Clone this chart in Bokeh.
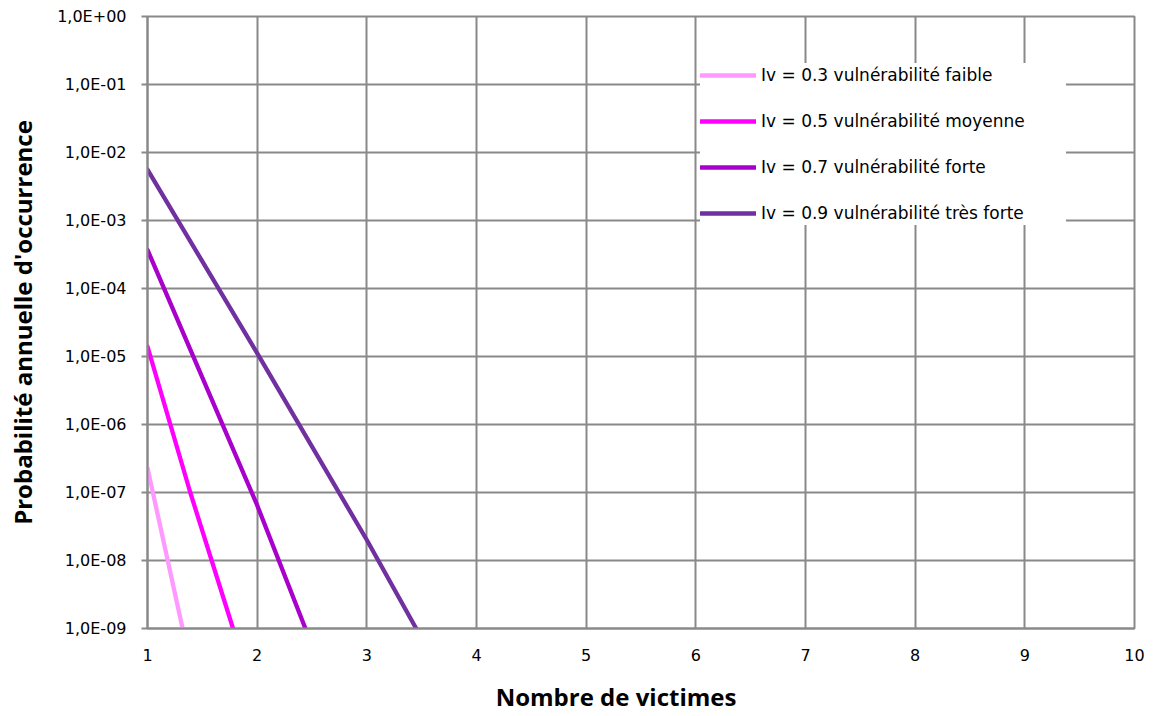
from bokeh.plotting import figure
from bokeh.models import FixedTicker, CustomJSTickFormatter, Legend, LegendItem, LinearAxis
from bokeh.embed import file_html
from bokeh.resources import INLINE

# ---- data ----
x_ticks = [1, 2, 3, 4, 5, 6, 7, 8, 9, 10]
y_ticks = [1e-9, 1e-8, 1e-7, 1e-6, 1e-5, 1e-4, 1e-3, 1e-2, 1e-1, 1e0]
y_tick_labels = ["1,0E-09", "1,0E-08", "1,0E-07", "1,0E-06", "1,0E-05",
                 "1,0E-04", "1,0E-03", "1,0E-02", "1,0E-01", "1,0E+00"]

series_names = ["Iv = 0.3 vulnérabilité faible",
                "Iv = 0.5 vulnérabilité moyenne",
                "Iv = 0.7 vulnérabilité forte",
                "Iv = 0.9 vulnérabilité très forte"]
series_colors = ["#FF99FF", "#FF00FF", "#AA00CC", "#7030A0"]

x_03 = [1.0, 1.32]
y_03 = [2.3e-7, 1e-9]
x_05 = [1.0, 1.39, 1.78]
y_05 = [1.4e-5, 1e-7, 1e-9]
x_07 = [1.0, 2.0, 2.44]
y_07 = [3.7e-4, 6.5e-8, 1e-9]
x_09 = [1.0, 2.0, 3.0, 3.45]
y_09 = [5.6e-3, 1.12e-5, 2.0e-8, 1e-9]

series_x = [x_03, x_05, x_07, x_09]
series_y = [y_03, y_05, y_07, y_09]

x_title = "Nombre de victimes"
y_title = "Probabilité annuelle d'occurrence"

FONT = "DejaVu Sans"
TFONT = "Open Sans"
GRID = "#898989"

p = figure(width=1150, height=716, output_backend="svg", toolbar_location=None,
           x_range=(1, 10), y_range=(1e-9, 1), y_axis_type="log",
           min_border_left=147, min_border_right=16, min_border_top=16,
           min_border_bottom=88)

p.background_fill_color = "white"
p.border_fill_color = "white"
p.outline_line_color = GRID
p.outline_line_width = 2

# axes
p.xaxis.ticker = FixedTicker(ticks=x_ticks)
p.yaxis.ticker = FixedTicker(ticks=y_ticks)
p.yaxis.formatter = CustomJSTickFormatter(args=dict(tvals=y_ticks, tlabels=y_tick_labels), code="""
    let best = 0, bd = Infinity;
    for (let i = 0; i < tvals.length; i++) {
        const d = Math.abs(Math.log10(tvals[i]) - Math.log10(tick));
        if (d < bd) { bd = d; best = i; }
    }
    return tlabels[best];
""")

for ax in (p.xaxis, p.yaxis):
    ax.axis_line_color = GRID
    ax.axis_line_width = 2
    ax.major_tick_line_color = GRID
    ax.major_tick_line_width = 2
    ax.minor_tick_line_color = None
    ax.major_tick_in = 0
    ax.major_label_text_font = FONT
    ax.major_label_text_font_size = "16px"
    ax.major_label_text_color = "black"
    ax.axis_label_text_font = TFONT
    ax.axis_label_text_font_style = "bold"
    ax.axis_label_text_font_size = "24px"
    ax.axis_label_text_color = "black"

p.xaxis.major_tick_out = 0
p.yaxis.major_tick_out = 6
p.yaxis.major_label_standoff = 15
p.xaxis.major_label_standoff = 20
p.yaxis.axis_label = y_title
p.yaxis.axis_label_standoff = 15

# x title: carried by a tick-less axis; trailing no-break spaces shift the
# centred text left of the frame centre, as in the reference
title_axis = LinearAxis(ticker=FixedTicker(ticks=[]),
                        axis_line_color=None, major_tick_line_color=None,
                        minor_tick_line_color=None, major_tick_out=0, major_tick_in=0,
                        minor_tick_out=0, minor_tick_in=0, major_label_standoff=0,
                        axis_label=x_title + "\u00a0" * 8, axis_label_standoff=16,
                        axis_label_text_font=TFONT, axis_label_text_font_style="bold",
                        axis_label_text_font_size="24px", axis_label_text_color="black")
p.add_layout(title_axis, "below")

p.xgrid.grid_line_color = GRID
p.ygrid.grid_line_color = GRID
p.xgrid.grid_line_width = 2
p.ygrid.grid_line_width = 2
p.ygrid.minor_grid_line_color = None

items = []
for name, color, xs, ys in zip(series_names, series_colors, series_x, series_y):
    r = p.line(xs, ys, line_color=color, line_width=4.3, line_cap="round")
    items.append(LegendItem(label=name, renderers=[r]))

legend = Legend(items=items, location=(553, 403))
legend.background_fill_color = "white"
legend.background_fill_alpha = 1.0
legend.border_line_color = None
legend.padding = 13
legend.spacing = 22
legend.glyph_width = 56
legend.glyph_height = 24
legend.label_height = 24
legend.label_width = 305
legend.label_standoff = 5
legend.label_text_font = FONT
legend.label_text_font_size = "17px"
legend.label_text_color = "black"
legend.margin = 0
p.add_layout(legend, "center")

open("out.html", "w").write(file_html(p, INLINE))
